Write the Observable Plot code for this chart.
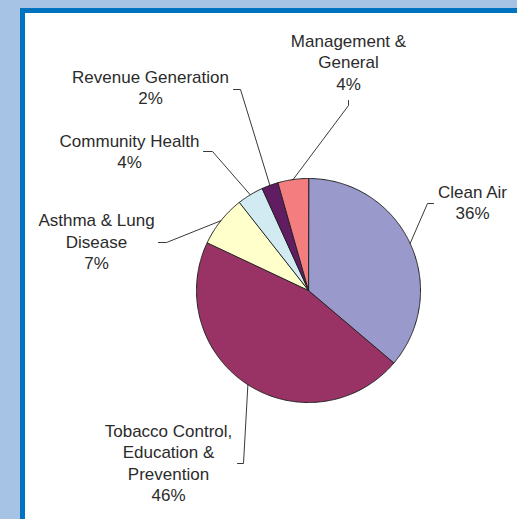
<!DOCTYPE html>
<html>
<head>
<meta charset="utf-8">
<script src="https://cdn.jsdelivr.net/npm/d3@7"></script>
<script src="https://cdn.jsdelivr.net/npm/@observablehq/plot@0.6"></script>
<style>
  html, body { margin: 0; padding: 0; }
  body { width: 517px; height: 519px; background: #a6c3e6; position: relative; overflow: hidden; }
  #frame { position: absolute; left: 20px; top: 8px; right: 0; bottom: 0; background: #ffffff;
           border-left: 5px solid #0073c0; border-top: 5px solid #0073c0; }
  #chart { position: absolute; left: 0; top: 0; }
</style>
</head>
<body>
<div id="frame"></div>
<div id="chart"></div>
<script>
// Data
const categories = ["Clean Air", "Tobacco Control, Education & Prevention", "Asthma & Lung Disease",
                    "Community Health", "Revenue Generation", "Management & General"];
const values = [36.2, 45.8, 7.4, 3.8, 2.4, 4.4];
const labelLines = [
  ["Clean Air"],
  ["Tobacco Control,", "Education &", "Prevention"],
  ["Asthma & Lung", "Disease"],
  ["Community Health"],
  ["Revenue Generation"],
  ["Management &", "General"]
];
const colors = ["#9999cc", "#993366", "#ffffcc", "#d2ebf3", "#611d61", "#f47e7f"];

// Layout (not data)
const W = 517, H = 519;
const cx = 308, cy = 290, R = 112;
const fontSize = 17, lineGap = 21.5;
const labelPos = [[472, 194], [168, 433], [96, 222.5], [129, 143], [150, 79], [348, 43]]; // center x, first-line top reference
const elbows = [[427, 203], [243, 463], [166, 242], [212, 151], [240, 89], [348, 105]];
const ends   = [[433, 203], [237, 463], [158, 242], [203, 151], [233, 89], [348, 100]];

const total = d3.sum(values);
const arcs = d3.pie().sort(null).value(d => d)(values);

const pt = (a, r) => [cx + r * Math.sin(a), cy - r * Math.cos(a)];

// Slice polygons
const slicePts = [];
arcs.forEach((a, i) => {
  slicePts.push({cat: categories[i], x: cx, y: cy});
  const n = Math.max(2, Math.ceil((a.endAngle - a.startAngle) / 0.01));
  for (let k = 0; k <= n; k++) {
    const ang = a.startAngle + (a.endAngle - a.startAngle) * k / n;
    const [x, y] = pt(ang, R);
    slicePts.push({cat: categories[i], x, y});
  }
});

// Leader lines
const leaderPts = [];
arcs.forEach((a, i) => {
  const mid = (a.startAngle + a.endAngle) / 2;
  const [x0, y0] = pt(mid, R);
  leaderPts.push({cat: categories[i], x: x0, y: y0});
  leaderPts.push({cat: categories[i], x: elbows[i][0], y: elbows[i][1]});
  leaderPts.push({cat: categories[i], x: ends[i][0], y: ends[i][1]});
});

// Labels
const labels = categories.map((c, i) => ({
  cat: c,
  x: labelPos[i][0],
  y: labelPos[i][1] - 0.71 * fontSize,
  text: [...labelLines[i], Math.round(values[i] / total * 100) + "%"].join("\n")
}));

const chart = Plot.plot({
  width: W, height: H,
  margin: 0,
  x: {domain: [0, W], range: [0, W], axis: null},
  y: {domain: [0, H], range: [0, H], axis: null},
  color: {domain: categories, range: colors},
  style: {background: "transparent", fontFamily: "'Liberation Sans', Arial, sans-serif"},
  marks: [
    Plot.line(slicePts, {x: "x", y: "y", z: "cat", fill: "cat", stroke: "#222", strokeWidth: 1,
                         curve: "linear-closed", strokeLinejoin: "round"}),
    Plot.line(leaderPts, {x: "x", y: "y", z: "cat", stroke: "#222", strokeWidth: 0.9}),
    Plot.text(labels, {x: "x", y: "y", text: "text", textAnchor: "middle", lineAnchor: "top",
                       fontSize, lineHeight: lineGap / fontSize, fill: "#2b2b2b"})
  ]
});
document.getElementById("chart").appendChild(chart);
</script>
</body>
</html>
